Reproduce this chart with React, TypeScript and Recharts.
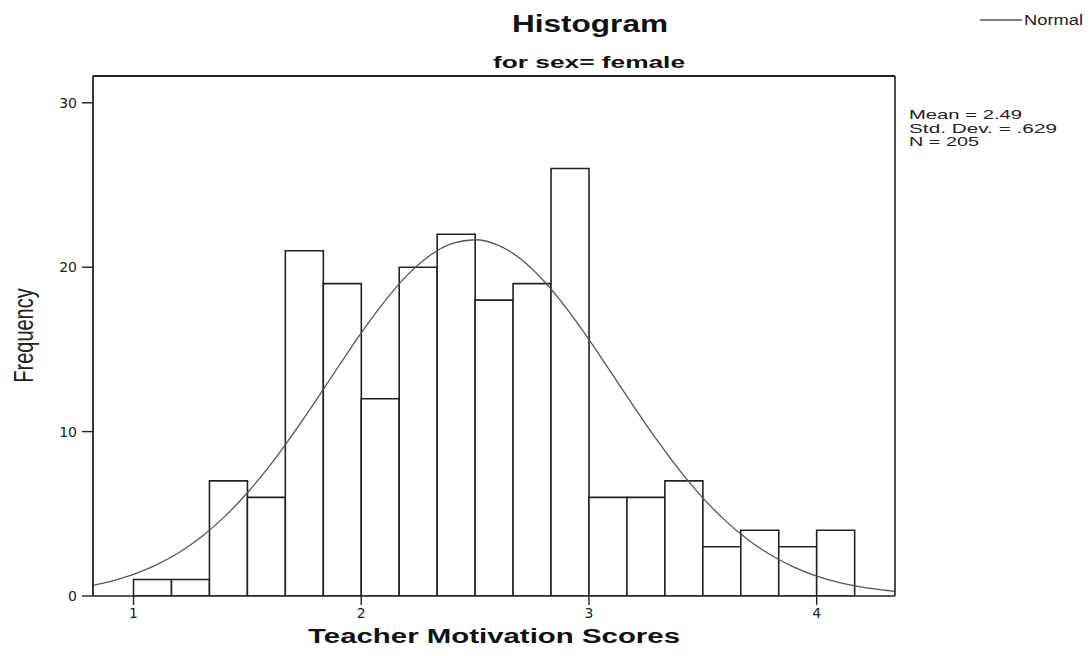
import {
  ComposedChart,
  Bar,
  Line,
  XAxis,
  YAxis,
} from 'recharts'

// ── histogram bins (midpoints, width 1/6) ──────────────────────────────────
const binMids = [
  1.0833, 1.25, 1.4167, 1.5833, 1.75, 1.9167, 2.0833, 2.25, 2.4167, 2.5833,
  2.75, 2.9167, 3.0833, 3.25, 3.4167, 3.5833, 3.75, 3.9167, 4.0833,
]
const frequencies = [1, 1, 7, 6, 21, 19, 12, 20, 22, 18, 19, 26, 6, 6, 7, 3, 4, 3, 4]

// ── normal curve ──────────────────────────────────────────────────────────
const curveX = [
  0.82, 0.9, 1.0, 1.1, 1.2, 1.3, 1.4, 1.5, 1.6, 1.7, 1.8, 1.9, 2.0, 2.1, 2.2,
  2.3, 2.4, 2.5, 2.6, 2.7, 2.8, 2.9, 3.0, 3.1, 3.2, 3.3, 3.4, 3.5, 3.6, 3.7,
  3.8, 3.9, 4.0, 4.1, 4.2, 4.3, 4.35,
]
const curveY = [
  0.64, 0.89, 1.31, 1.89, 2.65, 3.62, 4.83, 6.28, 7.96, 9.85, 11.87, 13.96,
  16.0, 17.88, 19.49, 20.7, 21.45, 21.67, 21.34, 20.5, 19.19, 17.52, 15.6,
  13.54, 11.46, 9.46, 7.61, 5.97, 4.57, 3.41, 2.48, 1.76, 1.21, 0.82, 0.54,
  0.35, 0.27,
]

const xTicks = [1, 2, 3, 4]
const yTicks = [0, 10, 20, 30]
const statLines = ['Mean = 2.49', 'Std. Dev. = .629', 'N = 205']

const barData = binMids.map((x, i) => ({ x, count: frequencies[i] }))
const curveData = curveX.map((x, i) => ({ x, normal: curveY[i] }))

const FONT = '"Liberation Sans", Arial, sans-serif'
const TICK_FONT = '"DejaVu Sans", sans-serif'
const INK = '#222'
const X_DOMAIN = [0.822, 4.344]
const Y_DOMAIN = [0, 31.63]

function XLabel(props: any) {
  const { viewBox } = props
  const cx = viewBox.x + viewBox.width / 2
  return (
    <text
      x={cx}
      y={643}
      textAnchor="middle"
      fontFamily={FONT}
      fontWeight="bold"
      fontSize={20}
      fill="#111"
      textLength={372}
      lengthAdjust="spacingAndGlyphs"
    >
      Teacher Motivation Scores
    </text>
  )
}

function YLabel() {
  return (
    <text
      transform="translate(33,335.5) scale(1.4,1) rotate(-90)"
      textAnchor="middle"
      fontFamily={FONT}
      fontSize={20}
      fill="#222"
    >
      Frequency
    </text>
  )
}

export default function App() {
  return (
    <div style={{ position: 'absolute', left: 0, top: 0, width: 1090, height: 656, background: '#fff' }}>
      <ComposedChart
        width={1090}
        height={656}
        data={barData}
        barCategoryGap={0}
        barGap={0}
        margin={{ top: 75, right: 194, bottom: 0, left: 0 }}
      >
        <XAxis
          dataKey="x"
          type="number"
          domain={X_DOMAIN}
          allowDataOverflow
          ticks={xTicks}
          interval={0}
          height={60}
          tickSize={9}
          tickMargin={3}
          stroke={INK}
          strokeWidth={1.6}
          tick={{ fontSize: 14, fontFamily: TICK_FONT, fill: '#222' }}
          tickLine={{ stroke: INK, strokeWidth: 1.4 }}
          label={<XLabel />}
        />
        {/* frame top: axis for the curve */}
        <XAxis
          xAxisId="curve"
          dataKey="x"
          type="number"
          orientation="top"
          domain={X_DOMAIN}
          allowDataOverflow
          height={1}
          tick={false}
          tickLine={false}
          stroke={INK}
          strokeWidth={1.8}
        />
        <YAxis
          type="number"
          domain={Y_DOMAIN}
          allowDataOverflow
          ticks={yTicks}
          interval={0}
          width={93}
          tickSize={11}
          tickMargin={5}
          stroke={INK}
          strokeWidth={1.8}
          tick={{ fontSize: 14, fontFamily: TICK_FONT, fill: '#222' }}
          tickLine={{ stroke: INK, strokeWidth: 1.4 }}
          label={<YLabel />}
        />
        {/* frame right */}
        <YAxis
          yAxisId="curve"
          orientation="right"
          type="number"
          domain={Y_DOMAIN}
          allowDataOverflow
          width={1}
          tick={false}
          tickLine={false}
          stroke={INK}
          strokeWidth={1.6}
        />
        <Bar
          dataKey="count"
          fill="#fff"
          stroke={INK}
          strokeWidth={1.6}
          isAnimationActive={false}
        />
        <Line
          xAxisId="curve"
          yAxisId="curve"
          data={curveData}
          dataKey="normal"
          type="monotone"
          dot={false}
          stroke="#555"
          strokeWidth={1.3}
          isAnimationActive={false}
        />
      </ComposedChart>

      <svg
        width={1090}
        height={656}
        style={{ position: 'absolute', left: 0, top: 0, pointerEvents: 'none' }}
      >
        <text x={590} y={32} textAnchor="middle" fontFamily={FONT} fontWeight="bold" fontSize={23} fill="#111" textLength={156} lengthAdjust="spacingAndGlyphs">
          Histogram
        </text>
        <text x={589} y={68} textAnchor="middle" fontFamily={FONT} fontWeight="bold" fontSize={17} fill="#111" textLength={192} lengthAdjust="spacingAndGlyphs">
          for sex= female
        </text>
        <line x1={980} y1={20} x2={1022} y2={20} stroke="#555" strokeWidth={1.3} />
        <text x={1024} y={25} fontFamily={FONT} fontSize={14} fill="#222" textLength={59} lengthAdjust="spacingAndGlyphs">
          Normal
        </text>
        {statLines.map((s, i) => (
          <text
            key={s}
            x={909}
            y={119 + i * 13.5}
            fontFamily={FONT}
            fontSize={13}
            fill="#222"
            textLength={[113, 148, 70][i]}
            lengthAdjust="spacingAndGlyphs"
          >
            {s}
          </text>
        ))}
      </svg>
    </div>
  )
}
